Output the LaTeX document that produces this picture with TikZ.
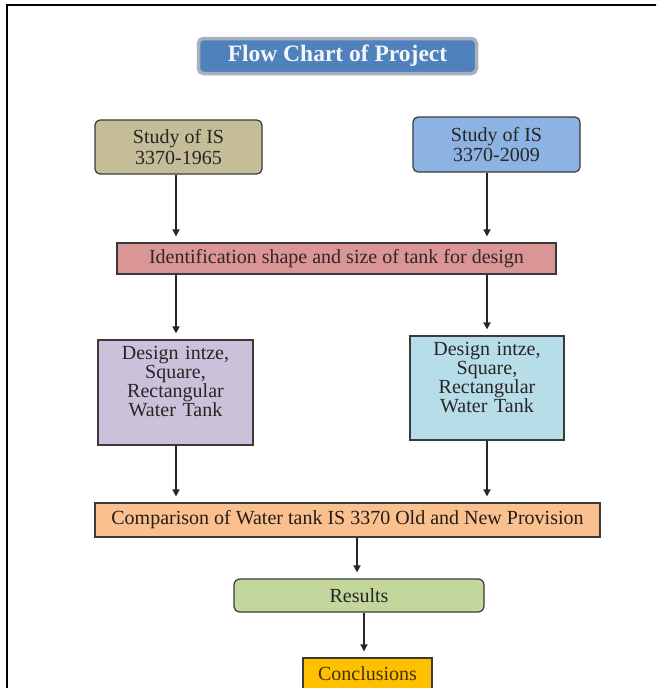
\documentclass[tikz,border=0pt]{standalone}
\usepackage{fontspec}
\setmainfont{Liberation Serif}
\usepackage{xcolor}
\usetikzlibrary{arrows.meta,calc}
\definecolor{TitleBlue}{HTML}{4F81BD}
\definecolor{TitleRim}{HTML}{A7B0C0}
\definecolor{OldTan}{HTML}{C4BD97}
\definecolor{NewBlue}{HTML}{8DB3E2}
\definecolor{IdRose}{HTML}{D99694}
\definecolor{DesLilac}{HTML}{CCC1DA}
\definecolor{DesCyan}{HTML}{B7DDE8}
\definecolor{CmpPeach}{HTML}{FAC090}
\definecolor{ResGreen}{HTML}{C3D69B}
\definecolor{ConAmber}{HTML}{FFC000}
\definecolor{BoxLine}{HTML}{3A3A3A}

\begin{document}
\begin{tikzpicture}[x=1pt, y=-1pt, font=\fontsize{20}{19}\selectfont,
  box/.style={draw=BoxLine, line width=1.2pt, align=center, inner sep=2pt, text=black!85},
  rbox/.style={box, rounded corners=5pt},
  study/.style={rbox, minimum width=167pt, font=\fontsize{20}{20.5}\selectfont},
  tank/.style={box, inner ysep=0pt, text width=150pt, text height=19pt},
  ar/.style={-{Triangle[length=7pt,width=7pt]}, line width=1.6pt, draw=black!85, fill=black!85, shorten >=6pt}]
\useasboundingbox (0,0) rectangle (656,688);
\clip (0,0) rectangle (656,688);
\fill[white] (0,0) rectangle (656,688);
\draw[line width=2.5pt] (7,690) -- (7,5) -- (658,5);

\node[draw=TitleRim, line width=3.5pt, fill=TitleBlue, rounded corners=5pt, text=white!93!TitleBlue,
      minimum width=278pt, minimum height=35pt, font=\fontsize{23.5}{26}\selectfont\bfseries]
  (title) at (337.5,56) {Flow Chart of Project};

\node[study, fill=OldTan, minimum height=54pt] (old) at (178.5,147) {Study of IS\\3370-1965};
\node[study, fill=NewBlue, minimum height=55pt] (new) at (496.5,144.5) {Study of IS\\3370-2009};
\node[box, fill=IdRose, text=IdRose!25!black, minimum width=439pt, minimum height=31pt] (ident) at (336.5,258.5)
  {Identification shape and size of tank for design};

\node[tank, fill=DesLilac, minimum width=155pt, text depth=86pt] (desold) at (175.5,392.5)
  {Design intze,\\Square,\\Rectangular\\Water Tank};
\node[tank, fill=DesCyan, minimum width=152pt, text depth=85pt] (desnew) at (487,388)
  {Design intze,\\Square,\\Rectangular\\Water Tank};

\node[box, fill=CmpPeach, text=CmpPeach!15!black, minimum width=505pt, minimum height=34pt] (cmp) at (347.5,520)
  {Comparison of Water tank IS 3370 Old and New Provision};
\node[rbox, fill=ResGreen, rounded corners=6pt, minimum width=250pt, minimum height=33pt] (res) at (359,595.5) {Results};
\node[box, fill=ConAmber, text=ConAmber!25!black, minimum width=129pt, inner ysep=0pt,
      text height=22pt, text depth=20pt] (conc) at (367.5,679) {Conclusions};

\draw[ar] ([xshift=-2.5pt]old.south) -- ([xshift=-2.5pt]old.south |- ident.north);
\draw[ar] ([xshift=-9.5pt]new.south) -- ([xshift=-9.5pt]new.south |- ident.north);
\draw[ar] ([xshift=0.5pt]ident.south -| desold) -- ([xshift=0.5pt]desold.north);
\draw[ar] (ident.south -| desnew) -- (desnew.north);
\draw[ar] ([xshift=0.5pt]desold.south) -- ([xshift=0.5pt]desold.south |- cmp.north);
\draw[ar] (desnew.south) -- (desnew.south |- cmp.north);
\draw[ar] ([xshift=-2pt]cmp.south -| res) -- ([xshift=-2pt]res.north);
\draw[ar] ([xshift=-3.5pt]res.south -| conc) -- ([xshift=-3.5pt]conc.north);
\end{tikzpicture}
\end{document}
